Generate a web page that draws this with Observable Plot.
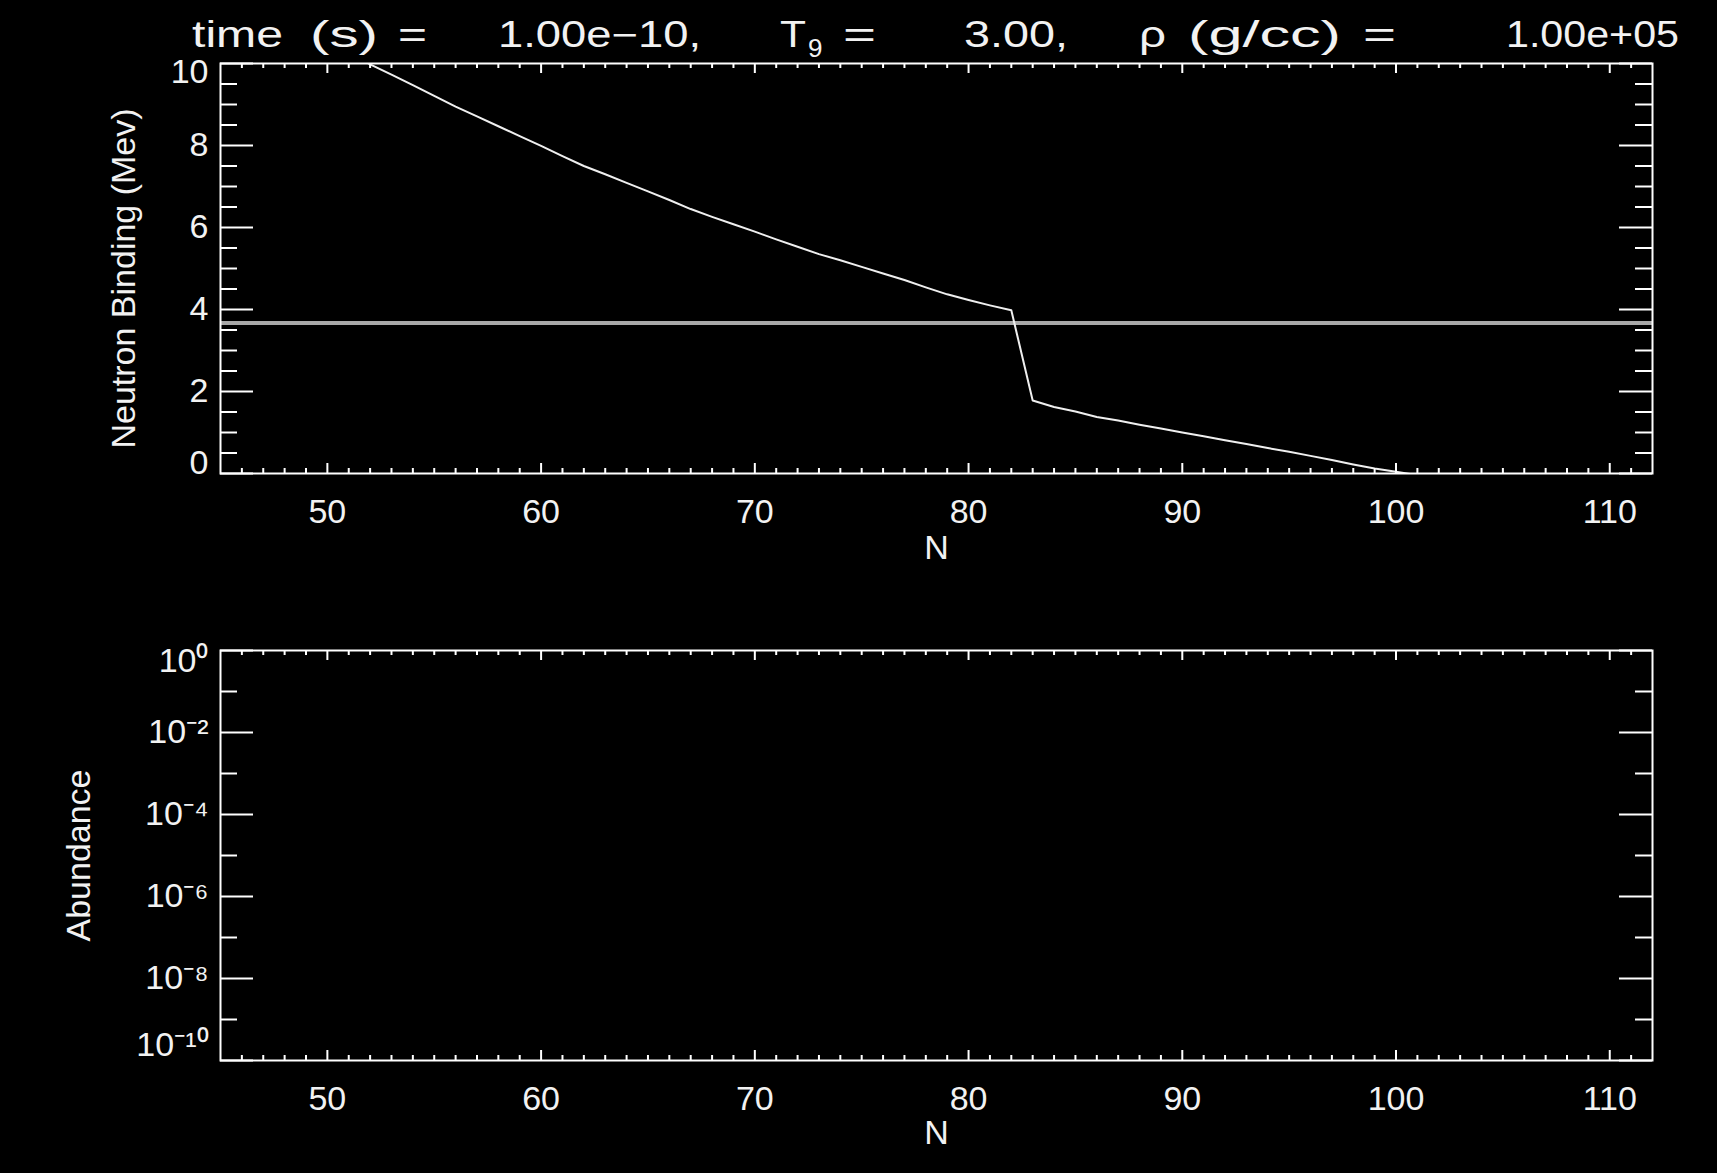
<!DOCTYPE html>
<html>
<head>
<meta charset="utf-8">
<script src="https://cdn.jsdelivr.net/npm/d3@7"></script>
<script src="https://cdn.jsdelivr.net/npm/@observablehq/plot@0.6"></script>
<style>
  html, body { margin: 0; padding: 0; background: #000; }
  #wrap { position: relative; width: 1717px; height: 1173px; background: #000; overflow: hidden; }
  svg { display: block; }
  #titleSvg { position: absolute; left: 0; top: 0; overflow: visible; z-index: 2; }
</style>
</head>
<body>
<div id="wrap"></div>
<script>
// ---- Data ----
const neutronNumber = [51,52,53,54,55,56,57,58,59,60,61,62,63,64,65,66,67,68,69,70,
  71,72,73,74,75,76,77,78,79,80,81,82,83,84,85,86,87,88,89,90,
  91,92,93,94,95,96,97,98,99,100,101];
const bindingMeV = [10.28,9.98,9.73,9.47,9.21,8.95,8.71,8.47,8.23,7.99,7.74,7.50,7.30,7.09,6.88,6.67,6.45,6.26,6.08,5.90,
  5.71,5.53,5.35,5.20,5.04,4.88,4.72,4.54,4.37,4.23,4.10,3.98,1.78,1.62,1.51,1.38,1.29,1.19,1.10,1.00,
  0.91,0.81,0.72,0.62,0.53,0.43,0.33,0.22,0.12,0.04,-0.04];
const thresholdMeV = [3.67];

const xTickValues = [50,60,70,80,90,100,110];
const xMinorValues = d3.range(46, 112).filter(v => v % 10 !== 0);
const yTopMajor = [0,2,4,6,8,10];
const yTopMinor = d3.range(0.5, 10, 0.5).filter(v => v % 2 !== 0);
const yLogMajor = [1, 1e-2, 1e-4, 1e-6, 1e-8, 1e-10];
const yLogMinor = [1e-1, 1e-3, 1e-5, 1e-7, 1e-9];
const yLogLabels = ["10⁰","10⁻²","10⁻⁴","10⁻⁶","10⁻⁸","10⁻¹⁰"];

const titleParts = ["time","(s)","=","1.00e−10,","T","=","3.00,","ρ","(g/cc)","=","1.00e+05"];
const titleSub = "9";

const rows = neutronNumber.map((n, i) => ({n, s: bindingMeV[i]}));

// ---- Layout ----
const W = 1717;
const ML = 220, MR = 65;
const innerW = W - ML - MR;
const innerH = 410;
const FONT = "'Liberation Sans', Arial, sans-serif";
const WHITE = "#f2f2f2";
const wrap = document.getElementById("wrap");

// Title (SVG overlay built with d3)
const titleLayout = [[192,91],[310,68],[398,29],[498,203],[780,26],[843,33],[964,104],[1139,27],[1188,153],[1363,33],[1506,173]];
const tsvg = d3.create("svg").attr("id", "titleSvg").attr("width", W).attr("height", 62);
titleParts.forEach((t, i) => {
  const [x, w] = titleLayout[i];
  tsvg.append("text").attr("x", x).attr("y", 47)
    .attr("fill", WHITE).attr("font-family", FONT).attr("font-size", 36)
    .attr("textLength", w).attr("lengthAdjust", "spacingAndGlyphs")
    .text(t);
});
tsvg.append("text").attr("x", 808).attr("y", 57)
  .attr("fill", WHITE).attr("font-family", FONT).attr("font-size", 26).text(titleSub);
wrap.append(tsvg.node());

function tickMarks(xMajor, xMinor, yMajor, yMinor) {
  const st = {stroke: "#fff", strokeWidth: 2};
  return [
    Plot.tickY(yMajor, {y: d => d, insetRight: innerW - 33, ...st}),
    Plot.tickY(yMinor, {y: d => d, insetRight: innerW - 17, ...st}),
    Plot.tickY(yMajor, {y: d => d, insetLeft: innerW - 33, ...st}),
    Plot.tickY(yMinor, {y: d => d, insetLeft: innerW - 17, ...st}),
    Plot.tickX(xMajor, {x: d => d, insetTop: innerH - 10, ...st}),
    Plot.tickX(xMinor, {x: d => d, insetTop: innerH - 5, ...st}),
    Plot.tickX(xMajor, {x: d => d, insetBottom: innerH - 10, ...st}),
    Plot.tickX(xMinor, {x: d => d, insetBottom: innerH - 5, ...st})
  ];
}

const styleObj = {background: "#000", color: WHITE, fontFamily: FONT, fontSize: "34px", overflow: "visible"};

// Top panel
const topPlot = Plot.plot({
  width: W, height: 580,
  marginLeft: ML, marginRight: MR, marginTop: 63, marginBottom: 107,
  style: styleObj,
  x: {domain: [45, 112], axis: null},
  y: {domain: [0, 10], axis: null},
  marks: [
    Plot.ruleY(thresholdMeV, {stroke: "#a8a8a8", strokeWidth: 4}),
    Plot.line(rows, {x: "n", y: "s", stroke: "#efefef", strokeWidth: 2, clip: true}),
    ...tickMarks(xTickValues, xMinorValues, yTopMajor, yTopMinor),
    Plot.frame({stroke: "#fff", strokeWidth: 2}),
    Plot.axisX(xTickValues, {anchor: "bottom", tickSize: 0, tickPadding: 25, fontSize: 34, label: null}),
    Plot.axisY([2,4,6,8], {anchor: "left", tickSize: 0, tickPadding: 12, fontSize: 34, label: null}),
    Plot.axisY([10], {anchor: "left", tickSize: 0, tickPadding: 12, fontSize: 34, label: null, dy: 9}),
    Plot.axisY([0], {anchor: "left", tickSize: 0, tickPadding: 12, fontSize: 34, label: null, dy: -10}),
    Plot.text(["N"], {frameAnchor: "bottom", lineAnchor: "middle", textAnchor: "middle", dy: 75, fontSize: 34, fill: WHITE}),
    Plot.text(["Neutron Binding (Mev)"], {frameAnchor: "left", textAnchor: "middle", lineAnchor: "middle", dx: -96, dy: 10, rotate: -90, fontSize: 34, fill: WHITE})
  ]
});
wrap.append(topPlot);

// Bottom panel
const fmtLog = d => yLogLabels[yLogMajor.indexOf(d)];
const botPlot = Plot.plot({
  width: W, height: 593,
  marginLeft: ML, marginRight: MR, marginTop: 70, marginBottom: 113,
  style: styleObj,
  x: {domain: [45, 112], axis: null},
  y: {type: "log", domain: [1e-10, 1], axis: null},
  marks: [
    ...tickMarks(xTickValues, xMinorValues, yLogMajor, yLogMinor),
    Plot.frame({stroke: "#fff", strokeWidth: 2}),
    Plot.axisX(xTickValues, {anchor: "bottom", tickSize: 0, tickPadding: 25, fontSize: 34, label: null}),
    Plot.axisY(yLogMajor.slice(1, 5), {anchor: "left", tickSize: 0, tickPadding: 12, fontSize: 34, label: null, tickFormat: fmtLog}),
    Plot.axisY([1], {anchor: "left", tickSize: 0, tickPadding: 12, fontSize: 34, label: null, dy: 11, tickFormat: fmtLog}),
    Plot.axisY([1e-10], {anchor: "left", tickSize: 0, tickPadding: 12, fontSize: 34, label: null, dy: -15, tickFormat: fmtLog}),
    Plot.text(["N"], {frameAnchor: "bottom", lineAnchor: "middle", textAnchor: "middle", dy: 73, fontSize: 34, fill: WHITE}),
    Plot.text(["Abundance"], {frameAnchor: "left", textAnchor: "middle", lineAnchor: "middle", dx: -141, rotate: -90, fontSize: 34, fill: WHITE})
  ]
});
wrap.append(botPlot);
</script>
</body>
</html>
